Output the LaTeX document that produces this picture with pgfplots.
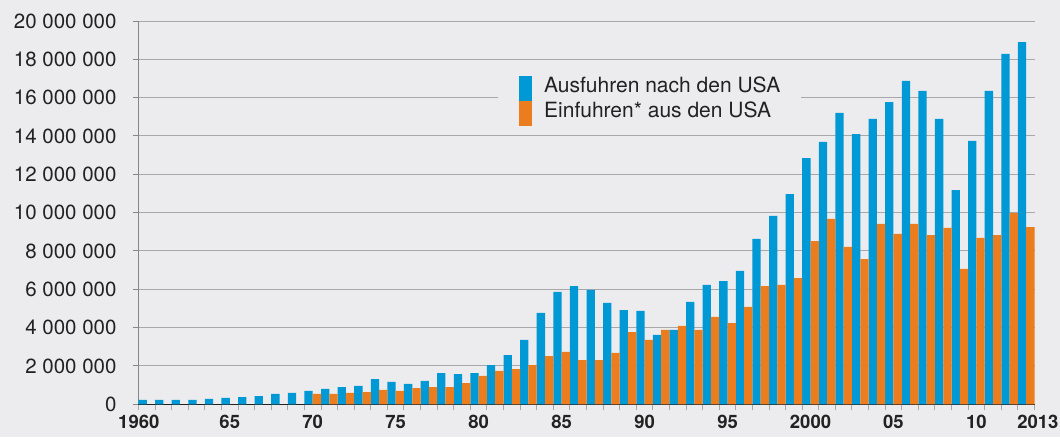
\documentclass[border=0pt]{standalone}
\usepackage{pgfplots}
\pgfplotsset{compat=1.18}
\usepackage{pgfplotstable}
\usepackage{fontspec}
\setmainfont{TeX Gyre Heros}
\definecolor{bg}{HTML}{ECECEE}
\definecolor{cblue}{HTML}{0099D5}
\definecolor{corange}{HTML}{EB7D1E}
\definecolor{gridc}{HTML}{A8A8A8}
\definecolor{txt}{HTML}{222222}
\pgfplotstableread{
year aus
1960 230000
1961 230000
1962 230000
1963 230000
1964 280000
1965 330000
1966 380000
1967 430000
1968 540000
1969 590000
1970 700000
1971 800000
1972 900000
1973 960000
1974 1320000
1975 1170000
1976 1060000
1977 1220000
1978 1630000
1979 1580000
1980 1630000
1981 2050000
1982 2570000
1983 3360000
1984 4770000
1985 5860000
1986 6170000
1987 5970000
1988 5290000
1989 4920000
1990 4870000
1991 3620000
1992 3880000
1993 5340000
1994 6230000
1995 6430000
1996 6960000
1997 8630000
1998 9830000
1999 10970000
2000 12850000
2001 13690000
2002 15200000
2003 14100000
2004 14890000
2005 15770000
2006 16870000
2007 16350000
2008 14890000
2009 11180000
2010 13740000
2011 16350000
2012 18280000
2013 18900000
}\ausdata
\pgfplotstableread{
year ein
1970 540000
1971 540000
1972 590000
1973 640000
1974 750000
1975 700000
1976 850000
1977 900000
1978 900000
1979 1110000
1980 1480000
1981 1740000
1982 1840000
1983 2050000
1984 2520000
1985 2730000
1986 2310000
1987 2310000
1988 2680000
1989 3770000
1990 3360000
1991 3880000
1992 4090000
1993 3880000
1994 4560000
1995 4240000
1996 5080000
1997 6170000
1998 6230000
1999 6590000
2000 8520000
2001 9670000
2002 8210000
2003 7580000
2004 9410000
2005 8890000
2006 9410000
2007 8830000
2008 9200000
2009 7060000
2010 8680000
2011 8830000
2012 9980000
2013 9250000
}\eindata
\begin{document}
\begin{tikzpicture}
\fill[bg] (-138.5pt,-32.7pt) rectangle (921.5pt,404.3pt);
\path[use as bounding box] (-138.5pt,-32.7pt) rectangle (921.5pt,404.3pt);
\begin{axis}[
  scale only axis,
  width=896pt, height=383.3pt,
  xmin=1959.5, xmax=2013.5,
  ymin=0, ymax=20000000,
  axis x line*=bottom, axis y line*=left,
  x axis line style={txt, line width=1.6pt},
  y axis line style={gridc!80!black, line width=1pt},
  ymajorgrids, grid style={gridc, line width=1pt},
  tick align=outside,
  major tick length=6pt,
  xtick={1959.5,1960.5,...,2013.5},
  xticklabels={},
  x tick style={draw=gridc, line width=1pt},
  extra x ticks={1960,1965,1970,1975,1980,1985,1990,1995,2000,2005,2010,2013},
  extra x tick labels={1960\hspace*{16pt},65,70,75,80,85,90,95,2000,05,10,\hspace*{23.4pt}2013},
  extra x tick style={major tick length=0pt, x tick style={draw=none},
    xticklabel style={font=\fontsize{18.5}{22}\selectfont\bfseries, text=txt, anchor=north, inner sep=0pt, yshift=-11pt}},
  y tick style={draw=gridc!80!black, line width=1pt},
  ytick={0,2000000,4000000,6000000,8000000,10000000,12000000,14000000,16000000,18000000,20000000},
  yticklabels={0,2 000 000,4 000 000,6 000 000,8 000 000,10 000 000,12 000 000,14 000 000,16 000 000,18 000 000,20 000 000},
  scaled y ticks=false,
  yticklabel style={font=\fontsize{20.5}{24}\selectfont, text=txt, anchor=east, inner sep=0pt, xshift=-15.8pt},
  legend style={at={(0.4012,0.8722)}, anchor=north west, fill=bg, draw=none,
    inner xsep=21pt, inner ysep=6pt, column sep=12pt, row sep=0pt,
    font=\fontsize{21}{24}\selectfont, text=txt,
    nodes={inner sep=0pt, anchor=base west}},
  legend cell align=left,
  legend image code/.code={\fill[#1,draw=none] (0pt,-8.5pt) rectangle (13pt,16.5pt);},
]
\addplot[ybar, bar width=0.5, bar shift=-0.25, fill=cblue, draw=none] table[x=year,y=aus] {\ausdata};
\addlegendentry{Ausfuhren nach den USA}
\addplot[ybar, bar width=0.5, bar shift=0.25, fill=corange, draw=none] table[x=year,y=ein] {\eindata};
\addlegendentry{Einfuhren* aus den USA}
\end{axis}
\end{tikzpicture}
\end{document}
